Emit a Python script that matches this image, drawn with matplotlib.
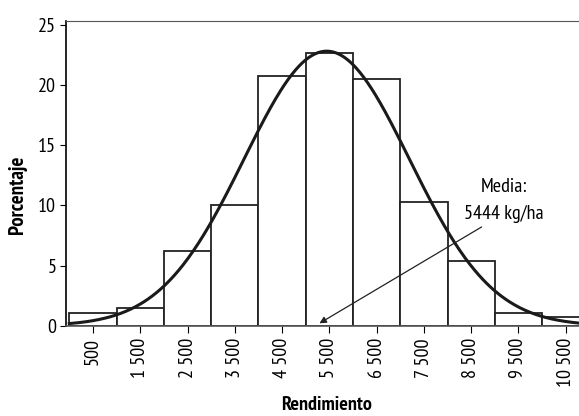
import numpy as np
from matplotlib import pyplot as plt

# datos del histograma (porcentaje por clase de rendimiento)
centros = [500, 1500, 2500, 3500, 4500, 5500, 6500, 7500, 8500, 9500, 10500]
porcentaje = [1.08, 1.49, 6.2, 10.05, 20.7, 22.65, 20.5, 10.25, 5.35, 1.08, 0.7]
etiquetas = ['500', '1 500', '2 500', '3 500', '4 500', '5 500', '6 500',
             '7 500', '8 500', '9 500', '10 500']
media = 5444
desv = 1750
ancho = 1000

plt.rcParams['font.family'] = ['PT Sans Narrow', 'DejaVu Sans']

fig = plt.figure(figsize=(5.79, 4.16), dpi=100)
axe = fig.add_axes([0.114, 0.217, 0.886, 0.7325])

axe.bar(centros, porcentaje, width=ancho, color='white', edgecolor='#222222', linewidth=1.3)

# curva normal ajustada
x = np.linspace(0, 10800, 400)
y = 100 * ancho / (desv * np.sqrt(2 * np.pi)) * np.exp(-(x - media) ** 2 / (2 * desv ** 2))
axe.plot(x, y, color='#1a1a1a', linewidth=2.2)

axe.annotate('', xy=(5290, 0.2), xytext=(8720, 8.2),
             arrowprops=dict(arrowstyle='-|>', color='#222222', lw=0.9,
                             mutation_scale=10, shrinkA=0, shrinkB=0))
axe.text(9190, 11.5, 'Media:', ha='center', va='center', fontsize=14.5)
axe.text(9190, 9.3, '5444 kg/ha', ha='center', va='center', fontsize=14.5)

axe.set_xlim(-70, 10780)
axe.set_ylim(0, 25.3)
axe.set_xticks(centros)
axe.set_xticklabels(etiquetas, rotation=90, fontsize=14.5)
axe.set_yticks([0, 5, 10, 15, 20, 25])
axe.tick_params(axis='y', labelsize=14.5, length=4, width=0.8, pad=3)
axe.tick_params(axis='x', length=5, width=0.8, pad=4)
axe.spines['right'].set_visible(False)
axe.spines['top'].set_color('#555555')
axe.spines['left'].set_linewidth(1.2)
axe.spines['bottom'].set_color('#555555')
axe.spines['bottom'].set_linewidth(1.2)

axe.set_ylabel('Porcentaje', fontsize=15, fontweight='bold')
axe.set_xlabel('Rendimiento', fontsize=14.5, fontweight='bold')
axe.yaxis.set_label_coords(-0.076, 0.43)
axe.xaxis.set_label_coords(0.508, -0.232)

plt.savefig('out.png', dpi=100)
